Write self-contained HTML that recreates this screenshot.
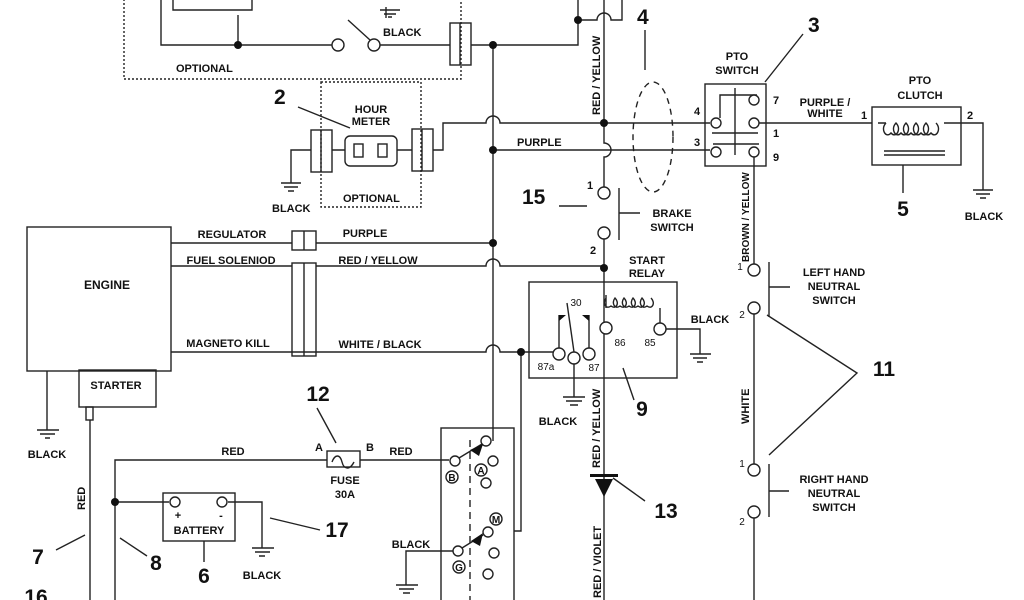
<!DOCTYPE html>
<html><head><meta charset="utf-8"><style>
html,body{margin:0;padding:0;background:#fff;width:1024px;height:600px;overflow:hidden}
svg{display:block}
text{font-family:"Liberation Sans",sans-serif;font-weight:bold;fill:#111}
.l{font-size:11px}
.n{font-size:21px}
.s{font-size:10px;font-weight:normal}
</style></head><body>
<svg width="1024" height="600" viewBox="0 0 1024 600" xmlns="http://www.w3.org/2000/svg">
<g stroke="#222" stroke-width="1.4" fill="none">
<rect x="124" y="-5" width="337" height="84" stroke-dasharray="2,2"/>
<path d="M161 0V45H333M173 0V10H252V0M238 15V45"/>
<circle cx="338" cy="45" r="6" fill="#fff"/><path d="M348 20L370 40"/><circle cx="374" cy="45" r="6" fill="#fff"/>
<path d="M380 45H450M471 45H578V0M578 20H597A7 7 0 0 1 611 20H622V0"/>
<rect x="450" y="23" width="21" height="42"/><path d="M460 23V65"/>
<path d="M386 7V18M380 10H400M384 14H396M388 17H392"/>
<path d="M493 45V441"/>
<rect x="321" y="82" width="100" height="125" stroke-dasharray="2,2"/>
<rect x="311" y="130" width="21" height="42"/><path d="M321 130V172"/>
<rect x="412" y="129" width="21" height="42"/><path d="M422 129V171"/>
<rect x="345" y="136" width="52" height="30" rx="5"/>
<rect x="354" y="144" width="9" height="13"/><rect x="378" y="144" width="9" height="13"/>
<path d="M291 183V150H311M332 150H345M397 150H412M433 150H443V123H486A7 7 0 0 1 500 123H710"/>
<path d="M281 183H301M284 187H298M288 191H294M298 107L350 128"/>
<path d="M493 150H710"/>
<path d="M604 0V143A7 7 0 0 1 604 157V187"/>
<ellipse cx="653" cy="137" rx="20" ry="55" stroke-dasharray="6,5"/>
<path d="M645 30V70M803 34L765 82M559 206H587"/>
<rect x="705" y="84" width="61" height="82"/>
<path d="M735 88V155M720 118V95H757M712 133H758M713 144H759"/>
<circle cx="716" cy="123" r="5" fill="#fff"/><circle cx="716" cy="152" r="5" fill="#fff"/>
<circle cx="754" cy="100" r="5" fill="#fff"/><circle cx="754" cy="123" r="5" fill="#fff"/><circle cx="754" cy="152" r="5" fill="#fff"/>
<path d="M759 123H872M754 157V264"/>
<rect x="872" y="107" width="89" height="58"/>
<path d="M878 123H886M944 123H983V190M973 190H993M976 194H990M980 198H986M884 151H945M884 155H945M903 165V193"/>
<path d="M886 123c-6 6 0 16 5 10 5 6 11-4 5-10-6 6 0 16 5 10 5 6 11-4 5-10-6 6 0 16 5 10 5 6 11-4 5-10-6 6 0 16 5 10 5 6 11-4 5-10-6 6 0 16 5 10 5 6 11-4 5-10"/>
<circle cx="604" cy="193" r="6" fill="#fff"/><circle cx="604" cy="233" r="6" fill="#fff"/>
<path d="M619 188V240M619 213H640M604 239V322"/>
<rect x="529" y="282" width="148" height="96"/>
<path d="M606 308V295M660 308V323M606 298c-4 5 0 12 5 8 5 4 9-3 4-8-4 5 0 12 5 8 5 4 9-3 4-8-4 5 0 12 5 8 5 4 9-3 4-8-4 5 0 12 5 8 5 4 9-3 4-8-4 5 0 12 5 8 5 4 9-3 4-8"/>
<circle cx="606" cy="328" r="6" fill="#fff"/><circle cx="660" cy="329" r="6" fill="#fff"/>
<circle cx="559" cy="354" r="6" fill="#fff"/><circle cx="574" cy="358" r="6" fill="#fff"/><circle cx="589" cy="354" r="6" fill="#fff"/>
<path d="M559 348V315M589 348V315M574 352L567 303M574 364V397M563 397H585M566 401H582M570 405H578"/>
<path d="M666 329H700V354M690 354H711M693 358H707M697 362H703M623 368L634 400"/>
<path d="M604 334V600M613 478L645 501"/>
<path d="M171 352H486A7 7 0 0 1 500 352H553M521 352V531H514"/>
<circle cx="754" cy="270" r="6" fill="#fff"/><circle cx="754" cy="308" r="6" fill="#fff"/>
<path d="M769 262V317M769 287H790M754 314V464"/>
<circle cx="754" cy="470" r="6" fill="#fff"/><circle cx="754" cy="512" r="6" fill="#fff"/>
<path d="M769 464V517M769 491H789M754 518V600M767 315L857 373L769 455"/>
<rect x="27" y="227" width="144" height="144"/>
<rect x="79" y="370" width="77" height="37"/>
<path d="M171 243H292M316 243H493M171 266H292M316 266H486A7 7 0 0 1 500 266H604"/>
<rect x="292" y="231" width="24" height="19"/><path d="M304 231V250"/>
<rect x="292" y="263" width="24" height="93"/><path d="M304 263V356"/>
<path d="M47 371V430M37 430H59M40 434H55M45 438H50"/>
<rect x="86" y="407" width="7" height="13"/>
<path d="M90 420V600M56 550L85 535M120 538L147 556"/>
<path d="M115 600V460H327M360 460H449M317 408L336 443"/>
<rect x="327" y="451" width="33" height="16"/>
<path d="M332 462c3-8 8-8 10 0s8 8 12 0"/>
<rect x="163" y="493" width="72" height="48"/>
<path d="M115 502H169M228 502H262V548M252 548H274M255 552H270M259 556H265M204 541V562M270 518L320 530"/>
<circle cx="175" cy="502" r="5" fill="#fff"/><circle cx="222" cy="502" r="5" fill="#fff"/>
<rect x="441" y="428" width="73" height="180"/>
<path d="M470 440V600" stroke-dasharray="7,5"/>
<circle cx="486" cy="441" r="5" fill="#fff"/><circle cx="493" cy="461" r="5" fill="#fff"/><circle cx="486" cy="483" r="5" fill="#fff"/>
<circle cx="455" cy="461" r="5" fill="#fff"/>
<circle cx="452" cy="477" r="6"/><circle cx="481" cy="470" r="6"/><circle cx="496" cy="519" r="6"/><circle cx="459" cy="567" r="6"/>
<circle cx="488" cy="532" r="5" fill="#fff"/><circle cx="458" cy="551" r="5" fill="#fff"/><circle cx="494" cy="553" r="5" fill="#fff"/><circle cx="488" cy="574" r="5" fill="#fff"/>
<path d="M459 458L482 444M462 548L483 535M453 551H406V585M396 585H418M399 589H414M403 593H410"/>
</g>
<g fill="#111">
<circle cx="238" cy="45" r="4"/><circle cx="493" cy="45" r="4"/><circle cx="578" cy="20" r="4"/>
<circle cx="493" cy="150" r="4"/><circle cx="604" cy="123" r="4"/><circle cx="493" cy="243" r="4"/>
<circle cx="604" cy="268" r="4"/><circle cx="521" cy="352" r="4"/><circle cx="115" cy="502" r="4"/>
<path d="M595 497L604 479L613 497Z" transform="rotate(180 604 488)"/>
<rect x="590" y="474" width="28" height="3"/>
<path d="M559 315h7l-7 6z M589 315h-7l7 6z"/>
<path d="M470 450l13-6-4 12z M471 541l12-8-3 13z"/>
</g>
<text class="l" x="176" y="72">OPTIONAL</text>
<text class="l" x="383" y="36">BLACK</text>
<text class="n" x="274" y="104">2</text>
<text class="l" x="371" y="113" text-anchor="middle">HOUR</text>
<text class="l" x="371" y="125" text-anchor="middle">METER</text>
<text class="l" x="272" y="212">BLACK</text>
<text class="l" x="343" y="202">OPTIONAL</text>
<text class="l" x="517" y="146">PURPLE</text>
<text class="l" transform="translate(600 115) rotate(-90)">RED / YELLOW</text>
<text class="n" x="637" y="24">4</text>
<text class="n" x="808" y="32">3</text>
<text class="l" x="737" y="60" text-anchor="middle">PTO</text>
<text class="l" x="737" y="74" text-anchor="middle">SWITCH</text>
<text class="l" x="697" y="115" text-anchor="middle">4</text>
<text class="l" x="697" y="146" text-anchor="middle">3</text>
<text class="l" x="776" y="104" text-anchor="middle">7</text>
<text class="l" x="776" y="137" text-anchor="middle">1</text>
<text class="l" x="776" y="161" text-anchor="middle">9</text>
<text class="l" x="825" y="106" text-anchor="middle">PURPLE /</text>
<text class="l" x="825" y="117" text-anchor="middle">WHITE</text>
<text class="l" x="920" y="84" text-anchor="middle">PTO</text>
<text class="l" x="920" y="99" text-anchor="middle">CLUTCH</text>
<text class="l" x="864" y="119" text-anchor="middle">1</text>
<text class="l" x="970" y="119" text-anchor="middle">2</text>
<text class="n" x="903" y="216" text-anchor="middle">5</text>
<text class="l" x="984" y="220" text-anchor="middle">BLACK</text>
<text class="l" transform="translate(749 262) rotate(-90)" style="font-size:10px">BROWN / YELLOW</text>
<text class="n" x="522" y="204">15</text>
<text class="l" x="590" y="189" text-anchor="middle">1</text>
<text class="l" x="593" y="254" text-anchor="middle">2</text>
<text class="l" x="672" y="217" text-anchor="middle">BRAKE</text>
<text class="l" x="672" y="231" text-anchor="middle">SWITCH</text>
<text class="l" x="647" y="264" text-anchor="middle">START</text>
<text class="l" x="647" y="277" text-anchor="middle">RELAY</text>
<text class="s" x="576" y="306" text-anchor="middle">30</text>
<text class="s" x="620" y="346" text-anchor="middle">86</text>
<text class="s" x="650" y="346" text-anchor="middle">85</text>
<text class="s" x="546" y="370" text-anchor="middle">87a</text>
<text class="s" x="594" y="371" text-anchor="middle">87</text>
<text class="l" x="710" y="323" text-anchor="middle">BLACK</text>
<text class="l" x="558" y="425" text-anchor="middle">BLACK</text>
<text class="n" x="642" y="416" text-anchor="middle">9</text>
<text class="l" transform="translate(600 468) rotate(-90)">RED / YELLOW</text>
<text class="l" transform="translate(601 598) rotate(-90)">RED / VIOLET</text>
<text class="n" x="666" y="518" text-anchor="middle">13</text>
<text class="l" x="834" y="276" text-anchor="middle">LEFT HAND</text>
<text class="l" x="834" y="290" text-anchor="middle">NEUTRAL</text>
<text class="l" x="834" y="304" text-anchor="middle">SWITCH</text>
<text class="s" x="740" y="270" text-anchor="middle">1</text>
<text class="s" x="742" y="318" text-anchor="middle">2</text>
<text class="l" transform="translate(749 424) rotate(-90)">WHITE</text>
<text class="n" x="884" y="376" text-anchor="middle">11</text>
<text class="l" x="834" y="483" text-anchor="middle">RIGHT HAND</text>
<text class="l" x="834" y="497" text-anchor="middle">NEUTRAL</text>
<text class="l" x="834" y="511" text-anchor="middle">SWITCH</text>
<text class="s" x="742" y="467" text-anchor="middle">1</text>
<text class="s" x="742" y="525" text-anchor="middle">2</text>
<text x="107" y="289" text-anchor="middle" style="font-size:12px">ENGINE</text>
<text class="l" x="116" y="389" text-anchor="middle">STARTER</text>
<text class="l" x="232" y="238" text-anchor="middle">REGULATOR</text>
<text class="l" x="231" y="264" text-anchor="middle">FUEL SOLENIOD</text>
<text class="l" x="228" y="347" text-anchor="middle">MAGNETO KILL</text>
<text class="l" x="365" y="237" text-anchor="middle">PURPLE</text>
<text class="l" x="378" y="264" text-anchor="middle">RED / YELLOW</text>
<text class="l" x="380" y="348" text-anchor="middle">WHITE / BLACK</text>
<text class="l" x="47" y="458" text-anchor="middle">BLACK</text>
<text class="l" transform="translate(85 510) rotate(-90)">RED</text>
<text class="n" x="38" y="564" text-anchor="middle">7</text>
<text class="n" x="156" y="570" text-anchor="middle">8</text>
<text class="n" x="36" y="604" text-anchor="middle">16</text>
<text class="n" x="318" y="401" text-anchor="middle">12</text>
<text class="l" x="319" y="451" text-anchor="middle">A</text>
<text class="l" x="370" y="451" text-anchor="middle">B</text>
<text class="l" x="233" y="455" text-anchor="middle">RED</text>
<text class="l" x="401" y="455" text-anchor="middle">RED</text>
<text class="l" x="345" y="484" text-anchor="middle">FUSE</text>
<text class="l" x="345" y="498" text-anchor="middle">30A</text>
<text class="l" x="178" y="519" text-anchor="middle">+</text>
<text class="l" x="221" y="519" text-anchor="middle">-</text>
<text class="l" x="199" y="534" text-anchor="middle">BATTERY</text>
<text class="n" x="204" y="583" text-anchor="middle">6</text>
<text class="l" x="262" y="579" text-anchor="middle">BLACK</text>
<text class="n" x="337" y="537" text-anchor="middle">17</text>
<text class="l" x="411" y="548" text-anchor="middle">BLACK</text>
<text class="s" x="452" y="481" text-anchor="middle" style="font-weight:bold">B</text>
<text class="s" x="481" y="474" text-anchor="middle" style="font-weight:bold">A</text>
<text class="s" x="496" y="523" text-anchor="middle" style="font-weight:bold">M</text>
<text class="s" x="459" y="571" text-anchor="middle" style="font-weight:bold">G</text>
</svg>
</body></html>
